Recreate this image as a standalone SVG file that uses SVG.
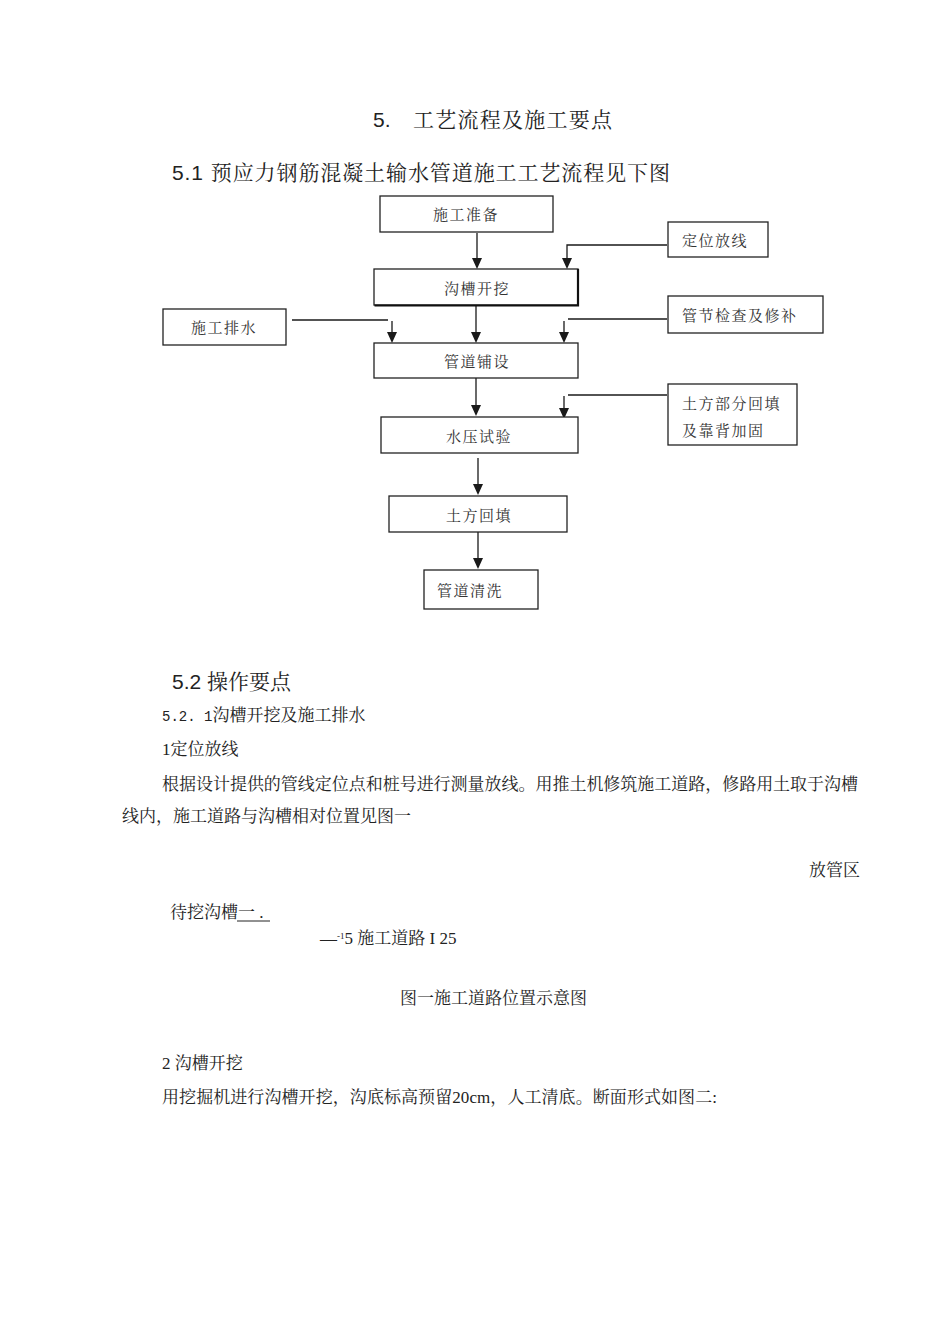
<svg xmlns="http://www.w3.org/2000/svg" width="950" height="1344" viewBox="0 0 950 1344">
<style>
.bg{fill:#fff}
.box{fill:#fff;stroke:#222;stroke-width:1.3}
.bt{font-family:"Liberation Serif","Noto Serif CJK SC","Noto Sans CJK SC",serif;font-size:15px;fill:#333;letter-spacing:1.5px}
.body{font-family:"Liberation Serif","Noto Serif CJK SC","Noto Sans CJK SC",serif;font-size:17px;fill:#222}
.head{font-family:"Liberation Sans","Noto Serif CJK SC","Noto Sans CJK SC",sans-serif;font-size:21px;fill:#222}
.ln{fill:none;stroke:#1a1a1a;stroke-width:1.3}
</style>
<defs>
<marker id="ah" markerUnits="userSpaceOnUse" markerWidth="10" markerHeight="11" refX="5" refY="11" orient="auto-start-reverse" viewBox="0 0 10 11">
<path d="M0,0 L10,0 L5,11 Z" fill="#1a1a1a"/>
</marker>
</defs>
<rect class="bg" x="0" y="0" width="950" height="1344"/>

<g id="headings">
<text class="head" x="373" y="127">5.</text>
<text class="head" x="413" y="127" textLength="199" lengthAdjust="spacing">工艺流程及施工要点</text>
<text class="head" x="172" y="180" textLength="498" lengthAdjust="spacing">5.1 预应力钢筋混凝土输水管道施工工艺流程见下图</text>
</g>

<g id="connectors">
<line class="ln" x1="477" y1="233" x2="477" y2="258"/>
<path d="M472,258 L482,258 L477,269 Z" fill="#1a1a1a"/>
<polyline class="ln" points="667,245 567,245 567,258"/>
<path d="M562,258 L572,258 L567,269 Z" fill="#1a1a1a"/>
<line class="ln" x1="476" y1="306" x2="476" y2="332"/>
<path d="M471,332 L481,332 L476,343 Z" fill="#1a1a1a"/>
<line class="ln" x1="292" y1="320" x2="388" y2="320"/>
<line class="ln" x1="392" y1="321" x2="392" y2="332"/>
<path d="M387,332 L397,332 L392,343 Z" fill="#1a1a1a"/>
<line class="ln" x1="568" y1="319" x2="667" y2="319"/>
<line class="ln" x1="564" y1="321" x2="564" y2="332"/>
<path d="M559,332 L569,332 L564,343 Z" fill="#1a1a1a"/>
<line class="ln" x1="476" y1="378" x2="476" y2="405"/>
<path d="M471,405 L481,405 L476,416 Z" fill="#1a1a1a"/>
<line class="ln" x1="568" y1="395" x2="667" y2="395" stroke-width="2.2"/>
<line class="ln" x1="564" y1="396" x2="564" y2="408" stroke-width="1.8"/>
<path d="M559,408 L569,408 L564,419 Z" fill="#1a1a1a"/>
<line class="ln" x1="478" y1="458" x2="478" y2="484"/>
<path d="M473,484 L483,484 L478,495 Z" fill="#1a1a1a"/>
<line class="ln" x1="478" y1="532" x2="478" y2="558"/>
<path d="M473,558 L483,558 L478,569 Z" fill="#1a1a1a"/>
</g>

<g id="n1"><rect class="box" x="380" y="196" width="173" height="36"/><text class="bt" x="433" y="219.5">施工准备</text></g>
<g id="n2"><rect class="box" x="668" y="222" width="100" height="35"/><text class="bt" x="682" y="245.5">定位放线</text></g>
<g id="n3"><rect class="box" x="374" y="269" width="204" height="36"/><path d="M374.5,305.5 L578,305.5 L578,269" fill="none" stroke="#111" stroke-width="2.2"/><text class="bt" x="444" y="293.5">沟槽开挖</text></g>
<g id="n4"><rect class="box" x="163" y="309" width="123" height="36"/><text class="bt" x="191" y="332.5">施工排水</text></g>
<g id="n5"><rect class="box" x="668" y="296" width="155" height="37"/><text class="bt" x="682" y="320.5">管节检查及修补</text></g>
<g id="n6"><rect class="box" x="374" y="343" width="204" height="35"/><text class="bt" x="444" y="366.5">管道铺设</text></g>
<g id="n7"><rect class="box" x="668" y="384" width="129" height="61"/><text class="bt" x="682" y="408.5" letter-spacing="2.5">土方部分回填</text><text class="bt" x="682" y="435.5" letter-spacing="2.5">及靠背加固</text></g>
<g id="n8"><rect class="box" x="381" y="417" width="197" height="36"/><text class="bt" x="446" y="441.5">水压试验</text></g>
<g id="n9"><rect class="box" x="389" y="496" width="178" height="36"/><text class="bt" x="446" y="520.5">土方回填</text></g>
<g id="n10"><rect class="box" x="424" y="570" width="114" height="39"/><text class="bt" x="437" y="595.5">管道清洗</text></g>

<g id="body">
<text class="head" x="172" y="689">5.2 操作要点</text>
<text class="body" x="162" y="721"><tspan font-family="Liberation Mono,monospace" font-size="14">5.2. 1</tspan>沟槽开挖及施工排水</text>
<text class="body" x="162" y="755">1定位放线</text>
<text class="body" x="162" y="790" textLength="696" lengthAdjust="spacing">根据设计提供的管线定位点和桩号进行测量放线。用推土机修筑施工道路，修路用土取于沟槽</text>
<text class="body" x="122" y="822">线内，施工道路与沟槽相对位置见图一</text>
<text class="body" x="809" y="876">放管区</text>
<text class="body" x="170" y="918">待挖沟槽一 .</text>
<line x1="237" y1="921" x2="270" y2="921" stroke="#222" stroke-width="1"/>
<text class="body" x="320" y="944" font-size="15">—<tspan font-size="9" dy="-5">-1</tspan><tspan dy="5">5 施工道路  I 25</tspan></text>
<text class="body" x="400" y="1004">图一施工道路位置示意图</text>
<text class="body" x="162" y="1069">2 沟槽开挖</text>
<text class="body" x="162" y="1103" textLength="555" lengthAdjust="spacing">用挖掘机进行沟槽开挖，沟底标高预留20cm，人工清底。断面形式如图二:</text>
</g>
</svg>
